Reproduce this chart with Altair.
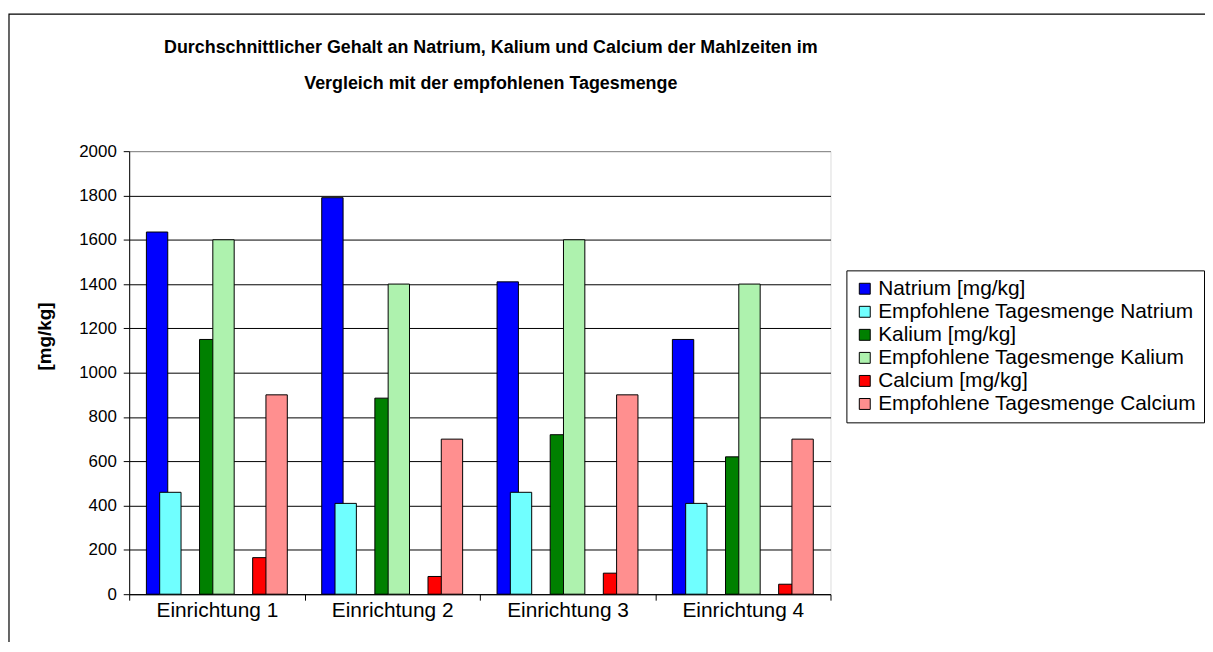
import altair as alt
import pandas as pd

# ---- data ----
einrichtungen = ["Einrichtung 1", "Einrichtung 2", "Einrichtung 3", "Einrichtung 4"]
natrium = [1635, 1790, 1410, 1150]
empf_natrium = [460, 410, 460, 410]
kalium = [1150, 885, 720, 620]
empf_kalium = [1600, 1400, 1600, 1400]
calcium = [165, 80, 95, 45]
empf_calcium = [900, 700, 900, 700]

serien = [
    "Natrium [mg/kg]",
    "Empfohlene Tagesmenge Natrium",
    "Kalium [mg/kg]",
    "Empfohlene Tagesmenge Kalium",
    "Calcium [mg/kg]",
    "Empfohlene Tagesmenge Calcium",
]
arten = ["Ist", "Empf", "Ist", "Empf", "Ist", "Empf"]
farben = ["#0000ff", "#70ffff", "#008000", "#aef2ae", "#ff0000", "#ff8f8f"]

y_ticks = [0, 200, 400, 600, 800, 1000, 1200, 1400, 1600, 1800, 2000]
titel_zeilen = [
    "Durchschnittlicher Gehalt an Natrium, Kalium und Calcium der Mahlzeiten im",
    "Vergleich mit der empfohlenen Tagesmenge",
]
y_titel = "[mg/kg]"

# slots inside one category (empty slots give the gaps between pairs)
slots = ["_a", serien[0], serien[1], "_b", "_c", serien[2], serien[3], "_d",
         "_e", serien[4], serien[5], "_f"]

werte = [natrium, empf_natrium, kalium, empf_kalium, calcium, empf_calcium]
rows = []
for i, e in enumerate(einrichtungen):
    for s, a, v in zip(serien, arten, werte):
        rows.append({"Einrichtung": e, "Serie": s, "Art": a, "Wert": v[i]})
df = pd.DataFrame(rows)

FONT = "Liberation Sans"

x_enc = alt.X(
    "Einrichtung:N",
    sort=einrichtungen,
    scale=alt.Scale(paddingInner=0, paddingOuter=0),
    axis=alt.Axis(
        title=None, labelAngle=0, tickBand="extent", tickSize=6,
        tickColor="black", domainColor="black", labelColor="black",
        labelFontSize=21, labelFont=FONT, labelPadding=-1, grid=False,
    ),
)
xoff_enc = alt.XOffset(
    "Serie:N",
    scale=alt.Scale(domain=slots, paddingInner=0, paddingOuter=0.6),
)
y_enc = alt.Y(
    "Wert:Q",
    scale=alt.Scale(domain=[0, 2000], nice=False),
    axis=alt.Axis(
        values=y_ticks, format="d", title=y_titel,
        titleFontSize=19, titleFont=FONT, titleFontWeight="bold",
        titleColor="black", titleX=-85, titleY=186, titleAngle=270,
        titleAlign="center", titleBaseline="middle",
        labelFontSize=17, labelFont=FONT, labelColor="black", labelPadding=7,
        tickSize=6, tickColor="black", domainColor="black",
        grid=True, gridWidth=1,
        gridColor={"condition": {"test": "datum.value === 2000", "value": "#808080"},
                   "value": "black"},
    ),
)
color_enc = alt.Color(
    "Serie:N",
    scale=alt.Scale(domain=serien, range=farben),
    legend=alt.Legend(
        title=None, orient="none", legendX=722, legendY=120,
        direction="vertical", strokeColor="black", fillColor="white",
        padding=8, cornerRadius=0, symbolType="square", symbolSize=121,
        symbolStrokeColor="black", symbolStrokeWidth=1, symbolOpacity=1,
        labelFontSize=21, labelFont=FONT, labelColor="black",
        labelOffset=3, rowPadding=1.2, labelLimit=600,
    ),
)

base = alt.Chart(df).encode(x=x_enc, xOffset=xoff_enc, y=y_enc, color=color_enc)

ist = base.transform_filter(alt.datum.Art == "Ist").mark_bar(
    width=21.5, stroke="black", strokeWidth=1, opacity=1
)
empf = base.transform_filter(alt.datum.Art == "Empf").mark_bar(
    width=21.5, stroke="black", strokeWidth=1, opacity=1
)

frame = alt.Chart(pd.DataFrame({"r": [0]})).mark_rect(
    filled=False, stroke="black", strokeWidth=1.2
).encode(x=alt.value(-121), x2=alt.value(1300), y=alt.value(-138), y2=alt.value(700))

titel1 = alt.Chart(pd.DataFrame({"t": [titel_zeilen[0]]})).mark_text(
    font=FONT, fontSize=18, fontWeight="bold", color="black",
    align="center", baseline="alphabetic",
).encode(text="t:N", x=alt.value(364), y=alt.value(-99))
titel2 = alt.Chart(pd.DataFrame({"t": [titel_zeilen[1]]})).mark_text(
    font=FONT, fontSize=18, fontWeight="bold", color="black",
    align="center", baseline="alphabetic",
).encode(text="t:N", x=alt.value(364), y=alt.value(-63))

chart = alt.layer(frame, ist, empf, titel1, titel2).properties(
    width=706,
    height=446,
    padding={"left": 122, "top": 142, "right": 377, "bottom": 46},
    autosize=alt.AutoSizeParams(type="none"),
    background="white",
).configure_view(stroke="#808080", strokeWidth=1).configure(font=FONT)

chart.save("out.html", embed_options={"renderer": "svg", "actions": False})
